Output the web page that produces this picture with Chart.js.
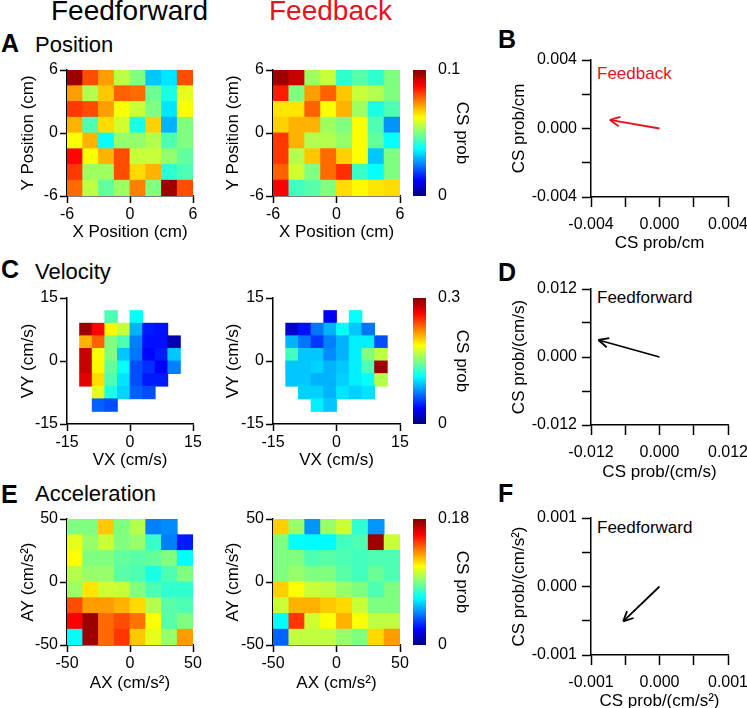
<!DOCTYPE html>
<html>
<head>
<meta charset="utf-8">
<script src="https://cdn.jsdelivr.net/npm/chart.js@4.4.1/dist/chart.umd.min.js"></script>
<style>
  body { margin: 0; background: #fff; width: 747px; height: 708px; position: relative; overflow: hidden;
         font-family: 'Liberation Sans', Arial, sans-serif; }
  canvas { position: absolute; }
  .t { position: absolute; white-space: nowrap; line-height: 1; color: #000; }
  .red { color: #e3141b; }
  .b { font-weight: bold; font-size: 25px; }
</style>
</head>
<body>
<div class="t" style="left:51px;top:-3px;font-size:28px">Feedforward</div>
<div class="t red" style="left:269px;top:-3px;font-size:28px">Feedback</div>

<div class="t b" style="left:1px;top:31px">A</div>
<div class="t" style="left:35px;top:34px;font-size:22px">Position</div>
<div class="t b" style="left:498px;top:27px">B</div>

<div class="t b" style="left:1px;top:257px">C</div>
<div class="t" style="left:35px;top:261px;font-size:22px">Velocity</div>
<div class="t b" style="left:498px;top:260px">D</div>

<div class="t b" style="left:1px;top:482px">E</div>
<div class="t" style="left:35px;top:483px;font-size:22px">Acceleration</div>
<div class="t b" style="left:498px;top:481px">F</div>

<div class="t red" style="left:597px;top:65px;font-size:17px">Feedback</div>
<div class="t" style="left:597px;top:289px;font-size:17px">Feedforward</div>
<div class="t" style="left:597px;top:519px;font-size:17px">Feedforward</div>

<script>
// CS prob maps, rows from top to bottom, columns from left to right (null = no data)
const posFF = [
  [0.097, 0.080, 0.072, 0.056, 0.050, 0.032, 0.035, 0.080],
  [0.072, 0.055, 0.068, 0.078, 0.077, 0.048, 0.040, 0.060],
  [0.082, 0.080, 0.072, 0.062, 0.057, 0.050, 0.035, 0.062],
  [0.070, 0.045, 0.066, 0.058, 0.040, 0.067, 0.030, 0.050],
  [0.062, 0.070, 0.038, 0.052, 0.052, 0.055, 0.045, 0.050],
  [0.087, 0.062, 0.070, 0.080, 0.057, 0.057, 0.052, 0.047],
  [0.082, 0.053, 0.053, 0.080, 0.066, 0.070, 0.042, 0.045],
  [0.077, 0.056, 0.047, 0.053, 0.075, 0.050, 0.097, 0.080]
];
const posFB = [
  [0.097, 0.093, 0.053, 0.057, 0.042, 0.046, 0.042, 0.050],
  [0.085, 0.050, 0.072, 0.078, 0.068, 0.057, 0.055, 0.050],
  [0.065, 0.065, 0.078, 0.062, 0.070, 0.053, 0.040, 0.045],
  [0.067, 0.070, 0.070, 0.053, 0.050, 0.062, 0.045, 0.027],
  [0.082, 0.070, 0.055, 0.055, 0.052, 0.062, 0.047, 0.038],
  [0.082, 0.055, 0.068, 0.077, 0.067, 0.062, 0.032, 0.050],
  [0.078, 0.058, 0.050, 0.077, 0.083, 0.043, 0.038, 0.050],
  [0.088, 0.044, 0.046, 0.050, 0.066, 0.063, 0.065, 0.066]
];
const velFF = [
  [null, null, null, null, null, null, null, null, null, null],
  [null, null, null, 0.135, null, 0.114, null, null, null, null],
  [null, 0.291, 0.261, 0.189, 0.171, 0.090, 0.045, 0.042, null, null],
  [null, 0.210, 0.234, 0.150, 0.135, 0.075, 0.042, 0.042, 0.015, null],
  [null, 0.279, 0.186, 0.150, 0.096, 0.072, 0.039, 0.045, 0.096, null],
  [null, 0.279, 0.189, 0.141, 0.114, 0.060, 0.051, 0.036, 0.075, null],
  [null, 0.270, 0.198, 0.135, 0.105, 0.060, 0.045, 0.045, null, null],
  [null, null, 0.180, 0.120, 0.100, 0.066, 0.060, null, null, null],
  [null, null, 0.066, 0.060, null, null, null, null, null, null],
  [null, null, null, null, null, null, null, null, null, null]
];
const velFB = [
  [null, null, null, null, null, null, null, null, null, null],
  [null, null, null, null, 0.036, null, 0.114, null, null, null],
  [null, 0.024, 0.042, 0.072, 0.090, 0.114, 0.096, 0.072, null, null],
  [null, 0.090, 0.072, 0.054, 0.075, 0.090, 0.108, 0.108, 0.060, null],
  [null, 0.132, 0.096, 0.096, 0.078, 0.090, 0.108, 0.150, 0.168, null],
  [null, 0.096, 0.096, 0.099, 0.090, 0.096, 0.108, 0.135, 0.291, null],
  [null, 0.096, 0.096, 0.090, 0.090, 0.099, 0.108, 0.114, 0.165, null],
  [null, null, 0.099, 0.099, 0.090, 0.105, 0.099, 0.105, null, null],
  [null, null, null, 0.108, 0.096, null, null, null, null, null],
  [null, null, null, null, null, null, null, null, null, null]
];
const accFF = [
  [0.090, 0.090, 0.122, 0.090, 0.099, 0.045, 0.047, null],
  [0.108, 0.094, 0.103, 0.090, 0.094, 0.077, 0.045, 0.027],
  [0.112, 0.090, 0.090, 0.085, 0.083, 0.085, 0.090, 0.068],
  [0.099, 0.094, 0.094, 0.083, 0.081, 0.072, 0.081, 0.090],
  [0.095, 0.117, 0.104, 0.103, 0.090, 0.081, 0.076, 0.076],
  [0.144, 0.130, 0.130, 0.126, 0.119, 0.099, 0.083, 0.081],
  [0.158, 0.175, 0.139, 0.144, 0.137, 0.112, 0.083, 0.090],
  [0.068, 0.175, 0.139, 0.148, 0.122, 0.108, 0.094, 0.130]
];
const accFB = [
  [0.121, 0.094, 0.049, 0.094, 0.103, 0.076, 0.049, null],
  [0.090, 0.068, 0.067, 0.067, 0.079, 0.081, 0.175, 0.103],
  [0.090, 0.090, 0.081, 0.083, 0.081, 0.079, 0.081, 0.081],
  [0.090, 0.094, 0.090, 0.090, 0.083, 0.079, 0.086, 0.081],
  [0.121, 0.112, 0.103, 0.101, 0.094, 0.090, 0.081, 0.090],
  [0.103, 0.126, 0.126, 0.122, 0.119, 0.103, 0.090, 0.090],
  [0.068, 0.148, 0.104, 0.112, 0.126, 0.112, 0.101, 0.101],
  [0.040, 0.101, 0.101, 0.101, 0.094, 0.090, 0.119, 0.130]
];
const posMax = 0.1, velMax = 0.3, accMax = 0.18;
const posTicks = [-6, 0, 6], velTicks = [-15, 0, 15], accTicks = [-50, 0, 50];

// preferred-direction vectors (x, y)
const arrowPos = [-0.0029, 0.0005];
const arrowVel = [-0.0107, 0.0030];
const arrowAcc = [-0.00053, -0.00051];
const arrowPosTicks = [-0.004, -0.002, 0, 0.002, 0.004];
const arrowVelTicks = [-0.012, -0.006, 0, 0.006, 0.012];
const arrowAccTicks = [-0.001, -0.0005, 0, 0.0005, 0.001];

Chart.defaults.font.family = "'Liberation Sans', Arial, sans-serif";
Chart.defaults.color = '#000';
Chart.defaults.animation = false;
Chart.defaults.events = [];
Chart.defaults.plugins.legend.display = false;
Chart.defaults.plugins.tooltip.enabled = false;

function jet(t) {
  t = Math.max(0, Math.min(1, t));
  const c = v => Math.round(255 * Math.max(0, Math.min(1, v)));
  return `rgb(${c(1.5 - Math.abs(4 * t - 3))},${c(1.5 - Math.abs(4 * t - 2))},${c(1.5 - Math.abs(4 * t - 1))})`;
}

function mkCanvas(box) {
  const c = document.createElement('canvas');
  c.width = box.w; c.height = box.h;
  c.style.left = box.x + 'px'; c.style.top = box.y + 'px';
  c.style.width = box.w + 'px'; c.style.height = box.h + 'px';
  document.body.appendChild(c);
  return c;
}

function axis(common) {
  return Object.assign({
    border: { color: '#000', width: 1.5 },
    grid: { drawOnChartArea: false, tickColor: '#000', tickWidth: 1.5, tickLength: 7 },
  }, common);
}

function heatmap(box, area, grid, ticks, vmax, xTitle, yTitle, yPad) {
  const lim = ticks[2];
  const cell = 2 * lim / grid[0].length;
  const pts = [];
  grid.forEach((row, r) => row.forEach((v, c) => {
    if (v !== null) pts.push({ x: -lim + cell * (c + 0.5), y: lim - cell * (r + 0.5), v: v });
  }));
  new Chart(mkCanvas(box), {
    type: 'scatter',
    data: {
      datasets: [{
        data: pts,
        pointStyle: 'rect',
        pointBorderWidth: 0,
        pointBackgroundColor: ctx => jet(ctx.raw.v / vmax),
        pointRadius: ctx => {
          const s = ctx.chart.scales.x;
          const half = Math.abs(s.getPixelForValue(cell) - s.getPixelForValue(0)) / 2;
          return (half + 0.4) / Math.SQRT1_2;
        }
      }]
    },
    options: {
      responsive: false,
      devicePixelRatio: 1,
      layout: { padding: { left: 0, bottom: 0, top: area.t - box.y, right: box.x + box.w - area.r } },
      scales: {
        x: axis({
          type: 'linear', min: -lim, max: lim,
          afterBuildTicks: s => { s.ticks = ticks.map(v => ({ value: v })); },
          afterFit: s => { s.height = box.y + box.h - area.b; s.paddingLeft = 0; s.paddingRight = 0; },
          ticks: { font: { size: 16 }, padding: 2, maxRotation: 0, callback: v => String(v) },
          title: { display: true, text: xTitle, font: { size: 17 }, padding: { top: 0, bottom: 7 } }
        }),
        y: axis({
          type: 'linear', min: -lim, max: lim,
          afterBuildTicks: s => { s.ticks = ticks.map(v => ({ value: v })); },
          afterFit: s => { s.width = area.l - box.x; s.paddingTop = 0; s.paddingBottom = 0; },
          ticks: { font: { size: 16 }, padding: 2, callback: v => String(v) },
          title: { display: true, text: yTitle, font: { size: 17 }, padding: { top: yPad, bottom: 0 } }
        })
      }
    }
  });
}

function colorbar(box, area, vmax) {
  new Chart(mkCanvas(box), {
    type: 'bar',
    data: {
      labels: [''],
      datasets: [{
        data: [vmax],
        barPercentage: 1,
        categoryPercentage: 1,
        borderWidth: 0,
        backgroundColor: ctx => {
          const a = ctx.chart.chartArea;
          if (!a) return '#fff';
          const g = ctx.chart.ctx.createLinearGradient(0, a.bottom, 0, a.top);
          for (let i = 0; i <= 32; i++) g.addColorStop(i / 32, jet(i / 32));
          return g;
        }
      }]
    },
    options: {
      responsive: false,
      devicePixelRatio: 1,
      layout: { padding: { left: area.l - box.x, top: area.t - box.y, bottom: box.y + box.h - area.b, right: 0 } },
      scales: {
        x: { display: false },
        y: {
          position: 'right', min: 0, max: vmax,
          afterBuildTicks: s => { s.ticks = [{ value: 0 }, { value: vmax }]; },
          afterFit: s => { s.width = box.x + box.w - area.r; s.paddingTop = 0; s.paddingBottom = 0; },
          grid: { display: false },
          border: { display: false },
          ticks: { font: { size: 16 }, padding: 4, callback: v => String(v) },
          title: { display: true, text: 'CS prob', font: { size: 17 }, padding: { top: 13, bottom: 0 } }
        }
      }
    }
  });
}

const arrowHead = {
  id: 'arrowHead',
  afterDatasetsDraw(chart) {
    const pts = chart.getDatasetMeta(0).data;
    const a = pts[0], b = pts[1];
    const ang = Math.atan2(b.y - a.y, b.x - a.x);
    const ctx = chart.ctx;
    ctx.save();
    ctx.strokeStyle = chart.data.datasets[0].borderColor;
    ctx.lineWidth = 1.8;
    ctx.beginPath();
    [-1, 1].forEach(s => {
      ctx.moveTo(b.x - 11 * Math.cos(ang + s * 0.45), b.y - 11 * Math.sin(ang + s * 0.45));
      ctx.lineTo(b.x, b.y);
    });
    ctx.stroke();
    ctx.restore();
  }
};

function fmt(v) {
  return Math.abs(v) < 1e-12 ? '0.000' : v.toFixed(3);
}

function arrowPlot(box, area, vec, ticks, color, xTitle, yTitle) {
  const lim = ticks[4];
  const lab = (v, i) => (i % 2 === 0 ? fmt(ticks[i]) : '');
  new Chart(mkCanvas(box), {
    type: 'scatter',
    data: {
      datasets: [{
        data: [{ x: 0, y: 0 }, { x: vec[0], y: vec[1] }],
        showLine: true,
        borderColor: color,
        borderWidth: 1.8,
        pointRadius: 0
      }]
    },
    options: {
      responsive: false,
      devicePixelRatio: 1,
      layout: { padding: { left: 0, bottom: 0, top: area.t - box.y, right: box.x + box.w - area.r } },
      scales: {
        x: axis({
          type: 'linear', min: -lim, max: lim,
          afterBuildTicks: s => { s.ticks = ticks.map(v => ({ value: v })); },
          afterFit: s => { s.height = box.y + box.h - area.b; s.paddingLeft = 0; s.paddingRight = 0; },
          grid: { drawOnChartArea: false, tickColor: '#000', tickWidth: 1.5, tickLength: 10 },
          ticks: { font: { size: 16 }, padding: 8, maxRotation: 0, autoSkip: false, callback: lab },
          title: { display: true, text: xTitle, font: { size: 17 }, padding: { top: 0, bottom: 5 } }
        }),
        y: axis({
          type: 'linear', min: -lim, max: lim,
          afterBuildTicks: s => { s.ticks = ticks.map(v => ({ value: v })); },
          afterFit: s => { s.width = area.l - box.x; s.paddingTop = 0; s.paddingBottom = 0; },
          grid: { drawOnChartArea: false, tickColor: '#000', tickWidth: 1.5, tickLength: 9 },
          ticks: { font: { size: 16 }, padding: 5, autoSkip: false, callback: lab },
          title: { display: true, text: yTitle, font: { size: 17 }, padding: { top: 29, bottom: 0 } }
        })
      }
    },
    plugins: [arrowHead]
  });
}

// row A: position
heatmap({ x: 0, y: 50, w: 215, h: 200 }, { l: 67, t: 70, r: 193, b: 196 }, posFF, posTicks, posMax,
  'X Position (cm)', 'Y Position (cm)', 18);
heatmap({ x: 200, y: 50, w: 215, h: 200 }, { l: 273, t: 70, r: 400, b: 196 }, posFB, posTicks, posMax,
  'X Position (cm)', 'Y Position (cm)', 23);
colorbar({ x: 400, y: 50, w: 85, h: 200 }, { l: 413, t: 70, r: 426, b: 196 }, posMax);
arrowPlot({ x: 480, y: 40, w: 267, h: 219 }, { l: 591, t: 60, r: 728, b: 197 }, arrowPos, arrowPosTicks,
  '#e3141b', 'CS prob/cm', 'CS prob/cm');

// row C: velocity
heatmap({ x: 0, y: 278, w: 215, h: 200 }, { l: 67, t: 298, r: 193, b: 424 }, velFF, velTicks, velMax,
  'VX (cm/s)', 'VY (cm/s)', 18);
heatmap({ x: 200, y: 278, w: 215, h: 200 }, { l: 273, t: 298, r: 400, b: 424 }, velFB, velTicks, velMax,
  'VX (cm/s)', 'VY (cm/s)', 23);
colorbar({ x: 400, y: 278, w: 85, h: 200 }, { l: 413, t: 298, r: 426, b: 424 }, velMax);
arrowPlot({ x: 480, y: 269, w: 267, h: 219 }, { l: 591, t: 289, r: 728, b: 425 }, arrowVel, arrowVelTicks,
  '#000', 'CS prob/(cm/s)', 'CS prob/(cm/s)');

// row E: acceleration
heatmap({ x: 0, y: 499, w: 215, h: 202 }, { l: 67, t: 519, r: 193, b: 645 }, accFF, accTicks, accMax,
  'AX (cm/s²)', 'AY (cm/s²)', 18);
heatmap({ x: 200, y: 499, w: 215, h: 202 }, { l: 273, t: 519, r: 400, b: 645 }, accFB, accTicks, accMax,
  'AX (cm/s²)', 'AY (cm/s²)', 23);
colorbar({ x: 400, y: 499, w: 85, h: 202 }, { l: 413, t: 519, r: 426, b: 645 }, accMax);
arrowPlot({ x: 480, y: 498, w: 267, h: 219 }, { l: 591, t: 518, r: 728, b: 655 }, arrowAcc, arrowAccTicks,
  '#000', 'CS prob/(cm/s²)', 'CS prob/(cm/s²)');
</script>
</body>
</html>
